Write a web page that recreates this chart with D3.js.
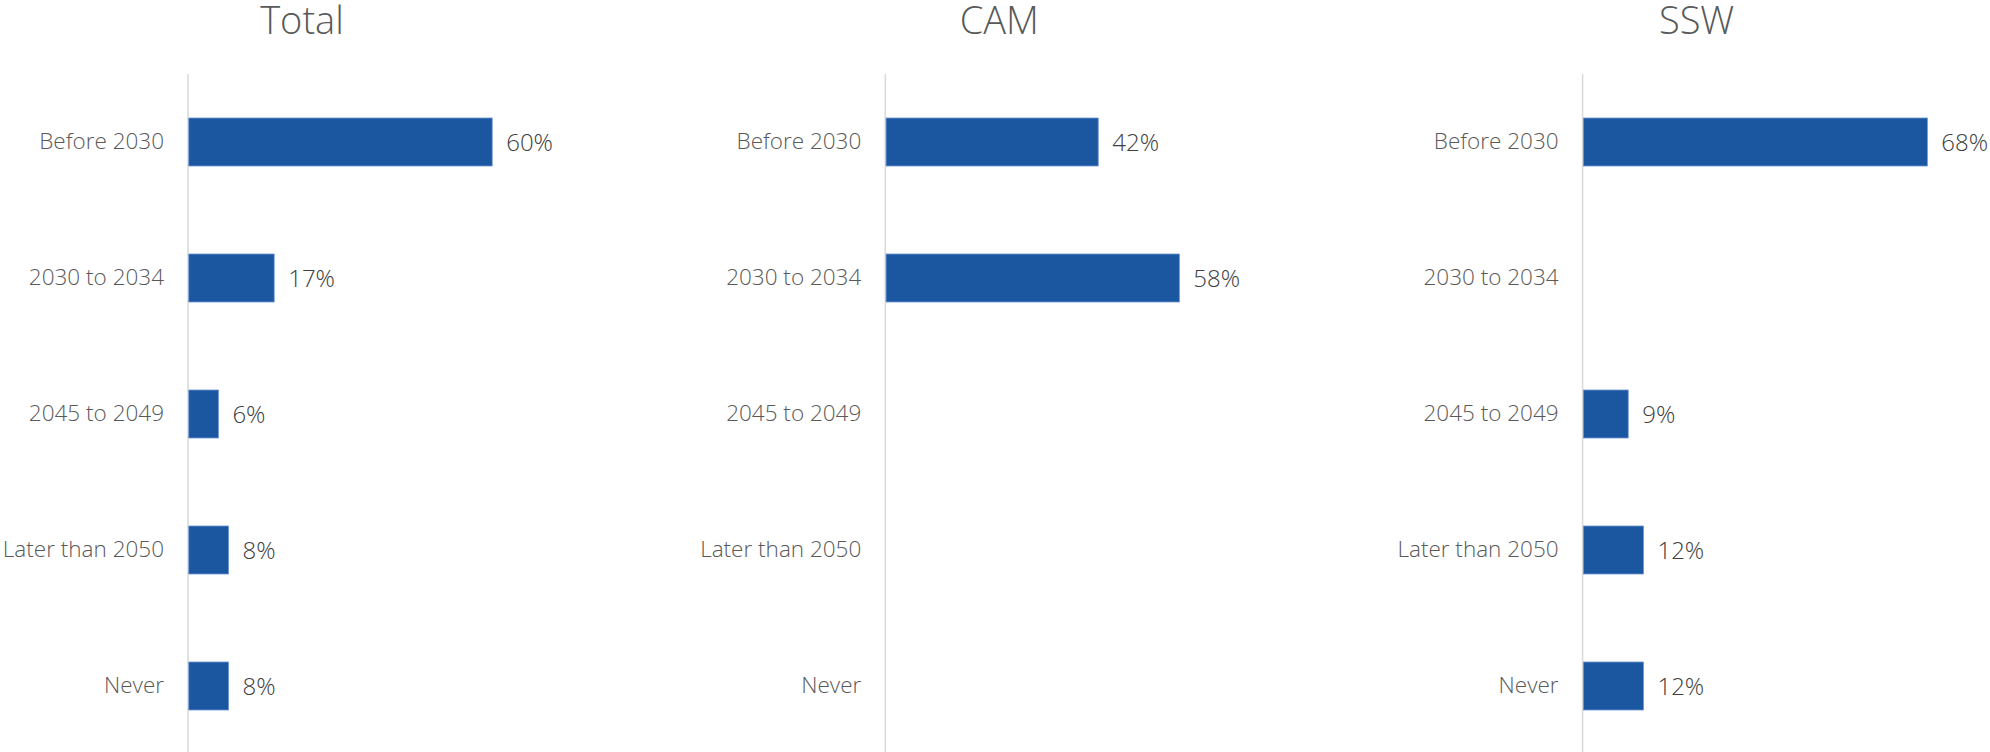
<!DOCTYPE html>
<html>
<head>
<meta charset="utf-8">
<script src="https://cdn.jsdelivr.net/npm/d3@7"></script>
<style>
  html, body { margin: 0; padding: 0; background: #fff; }
  svg { display: block; font-family: "Open Sans", "Noto Sans", sans-serif; }
</style>
</head>
<body>
<svg id="chart" width="1990" height="752"></svg>
<script>
const categories = ["Before 2030", "2030 to 2034", "2045 to 2049", "Later than 2050", "Never"];
const panelTitles = ["Total", "CAM", "SSW"];
const totalValues = [60, 17, 6, 8, 8];
const camValues = [42, 58, null, null, null];
const sswValues = [68, null, 9, 12, 12];
const seriesList = [totalValues, camValues, sswValues];

const W = 1990, H = 752;
const svg = d3.select("#chart");

const firstAxisX = 188, panelStep = 697.3;
const y = d3.scaleBand().domain(categories).range([74, 754]).paddingInner(0.647).paddingOuter(0.3235);
const x = d3.scaleLinear().domain([0, 100]).range([0, 507]);

panelTitles.forEach((title, i) => {
  const g = svg.append("g").attr("transform", `translate(${firstAxisX + i * panelStep},0)`);
  const vals = seriesList[i];

  // title
  g.append("text")
    .attr("x", 114).attr("y", 34)
    .attr("text-anchor", "middle")
    .attr("font-size", 38).attr("font-weight", 300)
    .attr("fill", "#595959")
    .text(title);

  // axis line
  g.append("line")
    .attr("x1", 0).attr("x2", 0)
    .attr("y1", 74).attr("y2", H)
    .attr("stroke", "#d9d9d9").attr("stroke-width", 1.5);

  // category labels
  g.selectAll("text.cat").data(categories).join("text")
    .attr("class", "cat")
    .attr("x", -24)
    .attr("y", d => y(d) + y.bandwidth() / 2)
    .attr("dy", "0.29em")
    .attr("text-anchor", "end")
    .attr("font-size", 22.5).attr("font-weight", 300)
    .attr("fill", "#595959")
    .text(d => d);

  const data = categories.map((c, k) => ({ c, v: vals[k] })).filter(d => d.v != null);

  g.selectAll("rect.bar").data(data).join("rect")
    .attr("class", "bar")
    .attr("x", 0.75)
    .attr("y", d => y(d.c))
    .attr("width", d => x(d.v) - 0.75)
    .attr("height", y.bandwidth())
    .attr("fill", "#1b57a1")
    .attr("stroke", "#6f97d2").attr("stroke-width", 0.8);

  g.selectAll("text.val").data(data).join("text")
    .attr("class", "val")
    .attr("x", d => x(d.v) + 14)
    .attr("y", d => y(d.c) + y.bandwidth() / 2)
    .attr("dy", "0.38em")
    .attr("font-size", 24).attr("font-weight", 300)
    .attr("fill", "#404040")
    .text(d => d.v + "%");
});
</script>
</body>
</html>
